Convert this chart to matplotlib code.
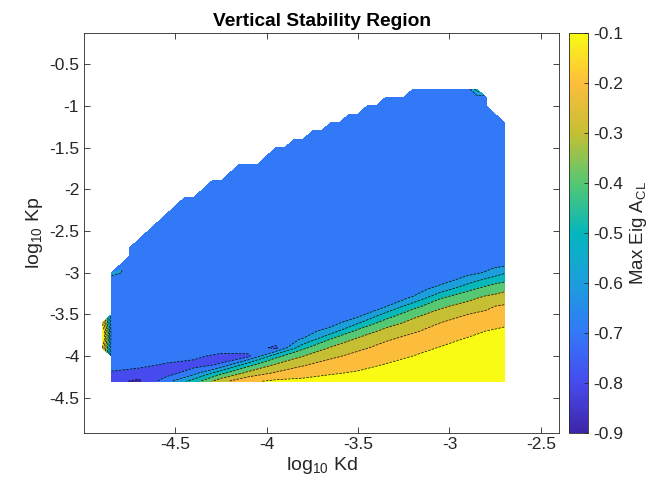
# region de estabilidad vertical: max eig de A_CL sobre el barrido log10 Kd / log10 Kp

import numpy as np
import matplotlib
matplotlib.use('Agg')
import matplotlib.pyplot as plt
from matplotlib.colors import LinearSegmentedColormap, Normalize
from matplotlib.cm import ScalarMappable

N = np.nan
B = -0.65   # valor de la zona azul grande (banda -0.7 .. -0.6)

# --- parte baja del barrido (donde estan las bandas) ---
log_kd = [-4.9, -4.85, -4.7, -4.55, -4.4, -4.25, -4.1, -3.95, -3.8, -3.65,
          -3.5, -3.35, -3.2, -3.05, -2.9, -2.8, -2.75, -2.7]
log_kp = [-4.3, -4.2, -4.1, -4.0, -3.9, -3.8, -3.7, -3.6, -3.5, -3.4, -3.3,
          -3.2, -3.1, -3.0, -2.9, -2.8]

# una fila por cada valor de log_kp (de abajo hacia arriba), NaN = inestable
max_eig = [
    [N, -0.77, -0.82, -0.64, -0.45, -0.23, -0.12, -0.08, -0.07, -0.06, -0.05, -0.04, -0.02, -0.01, -0.01, -0.01, -0.01, -0.01],
    [N, -0.71, -0.74, -0.75, -0.64, -0.43, -0.27, -0.19, -0.15, -0.11, -0.09, -0.07, -0.05, -0.02, -0.02, -0.02, -0.01, -0.01],
    [N, -0.66, -0.67, -0.71, -0.74, -0.69, -0.44, -0.29, -0.21, -0.16, -0.13, -0.097, -0.07, -0.04, -0.03, -0.02, -0.02, -0.02],
    [N, B, B, B, -0.67, -0.74, -0.72, -0.43, -0.30, -0.22, -0.17, -0.13, -0.099, -0.07, -0.04, -0.03, -0.03, -0.02],
    [-0.10, B, B, B, B, -0.62, B, -0.72, -0.42, -0.29, -0.22, -0.17, -0.13, -0.095, -0.07, -0.05, -0.04, -0.03],
    [0.05, B, B, B, B, B, B, B, -0.59, -0.39, -0.28, -0.21, -0.17, -0.13, -0.09, -0.07, -0.065, -0.06],
    [0.05, B, B, B, B, B, B, B, B, -0.55, -0.37, -0.27, -0.21, -0.17, -0.13, -0.099, -0.09, -0.08],
    [-0.10, B, B, B, B, B, B, B, B, B, -0.51, -0.35, -0.27, -0.20, -0.16, -0.14, -0.13, -0.12],
    [N, B, B, B, B, B, B, B, B, B, -0.64, -0.47, -0.33, -0.26, -0.20, -0.18, -0.16, -0.15],
    [N, B, B, B, B, B, B, B, B, B, B, -0.61, -0.44, -0.32, -0.26, -0.22, -0.20, -0.19],
    [N, B, B, B, B, B, B, B, B, B, B, B, -0.59, -0.41, -0.33, -0.28, -0.27, -0.25],
    [N, B, B, B, B, B, B, B, B, B, B, B, B, -0.55, -0.42, -0.36, -0.34, -0.32],
    [N, B, B, B, B, B, B, B, B, B, B, B, B, -0.64, -0.54, -0.46, -0.43, -0.41],
    [N, -0.57, B, B, B, B, B, B, B, B, B, B, B, B, -0.63, -0.59, -0.55, -0.51],
    [N, N, B, B, B, B, B, B, B, B, B, B, B, B, B, -0.64, -0.63, -0.63],
    [N, N] + [B] * 16,
]

# --- parte alta: todo azul, solo cambia el borde de estabilidad ---
log_kd_up = np.round(np.arange(-4.85, -2.675, 0.05), 2)   # 44 columnas
log_kp_up = np.round(np.arange(-3.0, -0.75, 0.1), 1)       # 23 filas
# log10 Kp mas alto que sigue siendo estable, por columna de log_kd_up
kp_top = [-3.0, -2.9, -2.7, -2.6, -2.5, -2.4, -2.3, -2.2, -2.1, -2.1,
          -2.0, -1.9, -1.9, -1.8, -1.7, -1.7, -1.7, -1.6, -1.5, -1.5,
          -1.4, -1.4, -1.3, -1.3, -1.2, -1.2, -1.1, -1.1, -1.0, -1.0,
          -0.9, -0.9, -0.9, -0.8, -0.8, -0.8, -0.8, -0.8, -0.8, -0.8,
          -0.8, -0.9, -1.1, -1.2]
corner_kd, corner_eig = -2.85, -0.45   # manchita en la esquina de arriba

levels = [-0.9, -0.8, -0.7, -0.6, -0.5, -0.4, -0.3, -0.2, -0.1, 0.1]
cb_ticks = [-0.9, -0.8, -0.7, -0.6, -0.5, -0.4, -0.3, -0.2, -0.1]
x_ticks = [-4.5, -4, -3.5, -3, -2.5]
y_ticks = [-4.5, -4, -3.5, -3, -2.5, -2, -1.5, -1, -0.5]

# parula aproximado
parula = LinearSegmentedColormap.from_list('parula', [
    (0.2422, 0.1504, 0.6603),
    (0.2810, 0.2930, 0.9352),
    (0.1960, 0.4750, 0.9700),
    (0.1100, 0.6200, 0.8700),
    (0.0200, 0.7150, 0.7400),
    (0.3300, 0.7800, 0.4500),
    (0.7700, 0.7500, 0.2000),
    (0.9900, 0.7400, 0.2400),
    (0.9769, 0.9839, 0.0805),
])
norm = Normalize(vmin=-0.9, vmax=-0.1)
band_colors = [parula(norm(lv)) for lv in levels[:-1]]

plt.rcParams['font.family'] = ['Liberation Sans', 'DejaVu Sans']
plt.rcParams['axes.unicode_minus'] = False
plt.rcParams['mathtext.default'] = 'regular'

fig = plt.figure(figsize=(6.57, 4.91), dpi=100)
ax = fig.add_axes([0.128, 0.119, 0.723, 0.813])

Z_up = np.where(log_kp_up[:, None] <= np.array(kp_top)[None, :] + 1e-6, B, np.nan)
Z_up[-1, np.argmin(np.abs(log_kd_up - corner_kd))] = corner_eig
Z_up = np.ma.masked_invalid(Z_up)
Z = np.ma.masked_invalid(np.array(max_eig))

ax.contourf(log_kd_up, log_kp_up, Z_up, levels=levels, colors=band_colors)
ax.contourf(log_kd, log_kp, Z, levels=levels, colors=band_colors)
ax.contour(log_kd_up, log_kp_up, Z_up, levels=levels[:-1], colors='k', linewidths=0.5)
ax.contour(log_kd, log_kp, Z, levels=levels[:-1], colors='k', linewidths=0.5)

ax.set_xlim(-5.0, -2.4)
ax.set_ylim(-4.915, -0.132)
ax.set_xticks(x_ticks)
ax.set_xticklabels(['%g' % t for t in x_ticks])
ax.set_yticks(y_ticks)
ax.set_yticklabels(['%g' % t for t in y_ticks])
ax.tick_params(direction='in', top=True, right=True, length=4, width=0.6,
               colors='#262626', labelsize=12.5)
for s in ax.spines.values():
    s.set_color('#262626')
    s.set_linewidth(0.6)

ax.set_title('Vertical Stability Region', fontsize=13.8, fontweight='bold', pad=5)
ax.set_xlabel('log$_{10}$ Kd', fontsize=14, color='#262626', labelpad=2)
ax.set_ylabel('log$_{10}$ Kp', fontsize=14, color='#262626', labelpad=3)

cax = fig.add_axes([0.866, 0.119, 0.029, 0.813])
sm = ScalarMappable(norm=norm, cmap=parula)
cb = fig.colorbar(sm, cax=cax, ticks=cb_ticks)
cb.ax.set_yticklabels(['%g' % t for t in cb_ticks])
cb.ax.tick_params(direction='in', length=3, width=0.6, colors='#262626', labelsize=12.5)
cb.outline.set_linewidth(0.6)
cb.outline.set_edgecolor('#262626')
cb.set_label('Max Eig A$_{CL}$', fontsize=13.5, color='#262626', labelpad=4)

fig.savefig('out.png', dpi=100)
